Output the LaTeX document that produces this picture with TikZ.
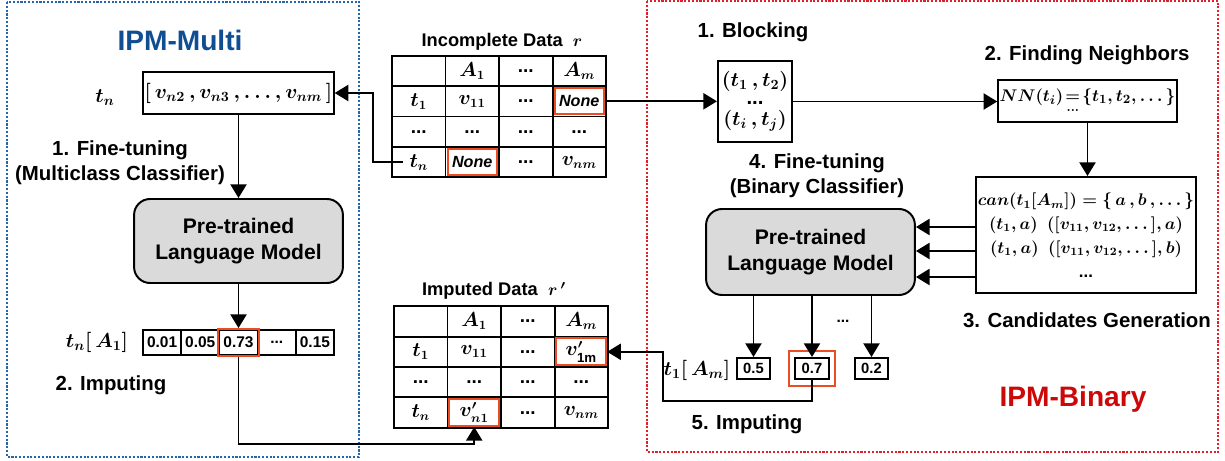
\documentclass[tikz,border=0pt]{standalone}
\usepackage{amsmath}
\usepackage{fontspec}
\setmainfont{Liberation Sans}
\usetikzlibrary{matrix,fit,arrows.meta}
\definecolor{multiblue}{RGB}{16,78,148}
\definecolor{binred}{RGB}{204,8,8}
\definecolor{dotblue}{RGB}{40,100,170}
\definecolor{dotred}{RGB}{226,30,40}
\definecolor{hlred}{RGB}{236,76,36}
\definecolor{lmgray}{RGB}{218,218,218}

\begin{document}
\begin{tikzpicture}[x=0.025cm,y=-0.025cm,
  box/.style={draw,line width=1.4pt,inner sep=1pt,align=center},
  lm/.style={box,fill=lmgray,rounded corners=0.4cm,minimum width=5.22cm,font=\fontsize{15}{18}\selectfont\bfseries},
  cell/.style={draw,line width=1.4pt,anchor=center,minimum width=1.3375cm,minimum height=0.76cm,inner sep=0pt,font=\fontsize{13.5}{15}\selectfont\bfseries\boldmath},
  pcell/.style={draw,line width=1.4pt,anchor=center,minimum width=0.955cm,minimum height=0.625cm,inner sep=0pt,font=\fontsize{11}{13}\selectfont\bfseries},
  obox/.style={draw,line width=1.4pt,minimum width=0.83cm,minimum height=0.525cm,inner sep=0pt,font=\fontsize{10.5}{12}\selectfont\bfseries},
  hlbox/.style={draw=hlred,line width=1.4pt,inner sep=0pt},
  lbl/.style={font=\fontsize{14.5}{18}\selectfont\bfseries,align=center},
  mth/.style={font=\fontsize{14}{16}\selectfont\boldmath},
  arr/.style={line width=1.4pt,-{Triangle[length=0.34cm,width=0.4cm]}},
  none/.style={font=\fontsize{11.5}{13}\selectfont\bfseries\itshape}]
  \useasboundingbox (0,0) rectangle (1225,461);

  % frames
  \draw[dotblue,line width=1.5pt,dash pattern=on 1.5pt off 1.2pt] (7,2) rectangle (359,457);
  \draw[dotred,line width=1.5pt,dash pattern=on 1.5pt off 1.2pt] (647,1) rectangle (1218,452);
  \node[font=\fontsize{20}{24}\selectfont\bfseries,text=multiblue] (multi) at (180,40) {IPM-Multi};
  \node[font=\fontsize{20}{24}\selectfont\bfseries,text=binred] (binary) at (1073,399) {IPM-Binary};

  % incomplete data
  \node[lbl,font=\fontsize{13}{15}\selectfont\bfseries\boldmath] (inctitle) at (502,42) {Incomplete Data \ $r$};
  \matrix (inc) [matrix of nodes,nodes in empty cells,nodes={cell},column sep=-1.4pt,row sep=-1.4pt] at (499,116.5) {
    & $A_1$ & ... & $A_m$ \\
    $t_1$ & $v_{11}$ & ... & |[none]| None \\
    ... & ... & ... & ... \\
    $t_n$ & |[none]| None & ... & $v_{nm}$ \\
  };
  \node[hlbox,fit=(inc-2-4),inner sep=-0.08cm] (nonem) {};
  \node[hlbox,fit=(inc-4-2),inner sep=-0.08cm] (nonen) {};

  % imputed data
  \node[lbl,font=\fontsize{13}{15}\selectfont\bfseries\boldmath] (imptitle) at (494,291) {Imputed Data \ $r\,'$};
  \matrix (imp) [matrix of nodes,nodes in empty cells,nodes={cell},column sep=-1.4pt,row sep=-1.4pt] at (501,367) {
    & $A_1$ & ... & $A_m$ \\
    $t_1$ & $v_{11}$ & ... & $v'_{\mathrm{1m}}$ \\
    ... & ... & ... & ... \\
    $t_n$ & $v'_{n1}$ & ... & $v_{nm}$ \\
  };
  \node[hlbox,fit=(imp-2-4),inner sep=-0.07cm] (v1m) {};
  \node[hlbox,fit=(imp-4-2),inner sep=-0.07cm] (vn1) {};

  % IPM-Multi
  \node[mth] (tn) at (105,98) {$t_n$};
  \node[box,mth,minimum width=4.17cm,minimum height=1.05cm] (vec) at (238.5,93) {$[\,v_{n2}\,, v_{n3}\,, \dots, v_{nm}\,]$};
  \node[lbl] (ft1) at (120,163) {1. Fine-tuning\\(Multiclass Classifier)};
  \node[lm,minimum height=2.1cm] (lm1) at (238.5,241) {Pre-trained\\Language Model};
  \matrix (prob) [matrix of nodes,nodes={pcell},column sep=-1.4pt] at (238.5,342.5) {
    0.01 & 0.05 & 0.73 & ... & 0.15 \\
  };
  \node[hlbox,fit=(prob-1-3)] (sel1) {};
  \node[mth] (tna) at (97,342) {$t_n[\,A_1]$};
  \node[lbl] (imp1) at (111,385) {2. Imputing};

  \draw[arr] ([xshift=-0.4cm]inc-4-1.center) -- ++(-30,0) |- (vec.east);
  \draw[arr] (vec.south) -- (lm1.north);
  \draw[arr] (lm1.south) -- (sel1.north);
  \draw[arr] (sel1.south) |- ([yshift=-0.43cm]vn1.south) -- (vn1.south);

  % IPM-Binary
  \node[lbl] (blocking) at (753,32) {1. Blocking};
  \node[box,minimum width=1.85cm,minimum height=2.03cm,font=\fontsize{14.5}{16}\selectfont\bfseries\boldmath] (blk) at (755,101.5) {$(t_1\,, t_2)$\\[-3pt] ...\\[-1pt] $(t_i\,, t_j)$};
  \node[lbl] (finding) at (1087,55) {2. Finding Neighbors};
  \node[box,minimum width=4.125cm,minimum height=1.05cm,font=\fontsize{12.5}{14}\selectfont\boldmath] (nn) at (1087.5,101) {$NN(t_i)\!\underset{\dots}{=}\!\{t_1, t_2, \dots\}$};
  \node[box,minimum width=5.45cm,minimum height=2.9cm,font=\fontsize{12}{17}\selectfont\bfseries\boldmath] (cand) at (1086,235) {$can(t_1[A_m]) = \{\,a\,, b\,, \dots\}$\\ $(t_1, a)\ \ ([v_{11}, v_{12}, \dots], a)$\\ $(t_1, a)\ \ ([v_{11}, v_{12}, \dots], b)$\\ ...};
  \node[lbl] (gen) at (1087,320) {3. Candidates Generation};
  \node[lbl] (ft2) at (817,176) {4. Fine-tuning\\(Binary Classifier)};
  \node[lm,minimum height=2.15cm] (lm2) at (810.5,252) {Pre-trained\\Language Model};
  \node[obox] (o1) at (753.5,368.5) {0.5};
  \node[obox] (o2) at (812,368.5) {0.7};
  \node[obox] (o3) at (871.5,368.5) {0.2};
  \node[hlbox,fit=(o2),inner sep=0.14cm] (sel2) {};
  \node[font=\fontsize{11}{13}\selectfont\bfseries] (odots) at (843,321) {...};
  \node[mth] (tam) at (697,370) {$t_1[\,A_m]$};
  \node[lbl] (imp2) at (747,424) {5. Imputing};
  \coordinate (bend) at (663,401);

  \draw[arr] (nonem.east) -- (nonem.east -| blk.west);
  \draw[arr] (blk.east) -- (blk.east -| nn.west);
  \draw[arr] (nn.south) -- (nn.south |- cand.north);
  \foreach \dy in {0.2,-0.4,-1.05}
    \draw[arr] ([yshift=\dy cm]cand.west) -- ([yshift=\dy cm]cand.west -| lm2.east);
  \foreach \o in {o1,o2,o3}
    \draw[arr] (lm2.south -| \o.north) -- (\o.north);
  \draw[arr] (o2.south) |- (bend) |- (v1m.east);
\end{tikzpicture}
\end{document}
